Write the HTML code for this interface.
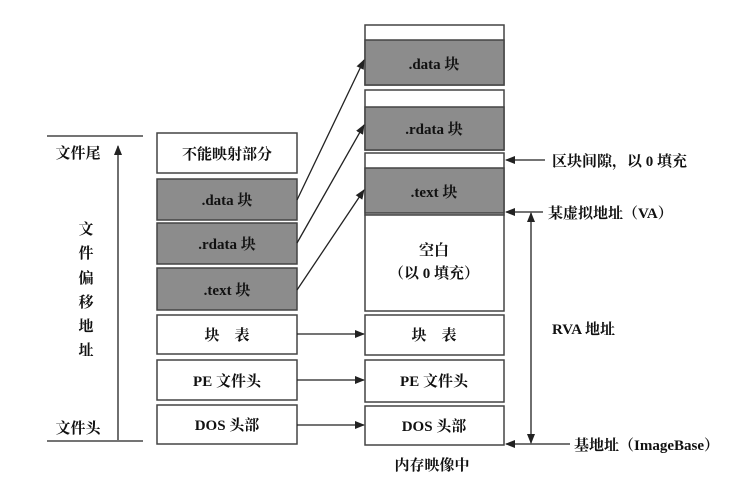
<!DOCTYPE html>
<html><head><meta charset="utf-8"><style>
html,body{margin:0;padding:0;background:#fff;}
svg{display:block}
text{font-family:"Liberation Serif","Noto Serif CJK SC",serif;fill:#111;font-weight:bold;}
</style></head><body>
<svg width="750" height="482" viewBox="0 0 750 482" xmlns="http://www.w3.org/2000/svg">
<defs>
<marker id="a" markerWidth="10" markerHeight="8" refX="9" refY="4" orient="auto" markerUnits="userSpaceOnUse"><path d="M0,0 L10,4 L0,8 Z" fill="#222"/></marker>
</defs>
<g stroke="#444" stroke-width="1.5">
<rect x="157" y="133" width="140" height="40" fill="#fff"/>
<rect x="157" y="179" width="140" height="41" fill="#8c8c8c"/>
<rect x="157" y="223" width="140" height="41" fill="#8c8c8c"/>
<rect x="157" y="268" width="140" height="42" fill="#8c8c8c"/>
<rect x="157" y="315" width="140" height="39" fill="#fff"/>
<rect x="157" y="360" width="140" height="40" fill="#fff"/>
<rect x="157" y="405" width="140" height="39" fill="#fff"/>
<rect x="365" y="25" width="139" height="60" fill="#fff"/>
<rect x="365" y="40" width="139" height="45" fill="#8c8c8c"/>
<rect x="365" y="90" width="139" height="60" fill="#fff"/>
<rect x="365" y="107" width="139" height="43" fill="#8c8c8c"/>
<rect x="365" y="153" width="139" height="62" fill="#fff"/>
<rect x="365" y="168" width="139" height="45" fill="#8c8c8c"/>
<rect x="365" y="215" width="139" height="96" fill="#fff"/>
<rect x="365" y="315" width="139" height="40" fill="#fff"/>
<rect x="365" y="360" width="139" height="42" fill="#fff"/>
<rect x="365" y="406" width="139" height="39" fill="#fff"/>
</g>
<g stroke="#222" stroke-width="1.3" fill="none">
<line x1="47" y1="136" x2="143" y2="136"/>
<line x1="47" y1="441" x2="143" y2="441"/>
<line x1="118" y1="440" x2="118" y2="146" marker-end="url(#a)"/>
<line x1="297" y1="200" x2="364" y2="60" marker-end="url(#a)"/>
<line x1="297" y1="243" x2="364" y2="125" marker-end="url(#a)"/>
<line x1="297" y1="290" x2="364" y2="190" marker-end="url(#a)"/>
<line x1="297" y1="334" x2="364" y2="334" marker-end="url(#a)"/>
<line x1="297" y1="380" x2="364" y2="380" marker-end="url(#a)"/>
<line x1="297" y1="425" x2="364" y2="425" marker-end="url(#a)"/>
<line x1="545" y1="160" x2="506" y2="160" marker-end="url(#a)"/>
<line x1="543" y1="212" x2="506" y2="212" marker-end="url(#a)"/>
<line x1="570" y1="444" x2="506" y2="444" marker-end="url(#a)"/>
<line x1="531" y1="225" x2="531" y2="213" marker-end="url(#a)"/>
<line x1="531" y1="225" x2="531" y2="432"/>
<line x1="531" y1="432" x2="531" y2="443" marker-end="url(#a)"/>
</g>
<g font-size="15" text-anchor="middle">
<text x="227" y="159">不能映射部分</text>
<text x="227" y="205">.data 块</text>
<text x="227" y="249">.rdata 块</text>
<text x="227" y="295">.text 块</text>
<text x="227" y="340">块　表</text>
<text x="227" y="386">PE 文件头</text>
<text x="227" y="430">DOS 头部</text>
<text x="434" y="69">.data 块</text>
<text x="434" y="134">.rdata 块</text>
<text x="434" y="197">.text 块</text>
<text x="434" y="255">空白</text>
<text x="434" y="278">（以 0 填充）</text>
<text x="434" y="340">块　表</text>
<text x="434" y="386">PE 文件头</text>
<text x="434" y="431">DOS 头部</text>
<text x="432" y="470">内存映像中</text>
<text x="78" y="158">文件尾</text>
<text x="78" y="433">文件头</text>
<text x="86" y="234">文</text>
<text x="86" y="258">件</text>
<text x="86" y="283">偏</text>
<text x="86" y="307">移</text>
<text x="86" y="331">地</text>
<text x="86" y="355">址</text>
</g>
<g font-size="15">
<text x="552" y="166">区块间隙，以 0 填充</text>
<text x="548" y="218">某虚拟地址（VA）</text>
<text x="552" y="334">RVA 地址</text>
<text x="574" y="450">基地址（ImageBase）</text>
</g>
</svg>
</body></html>
